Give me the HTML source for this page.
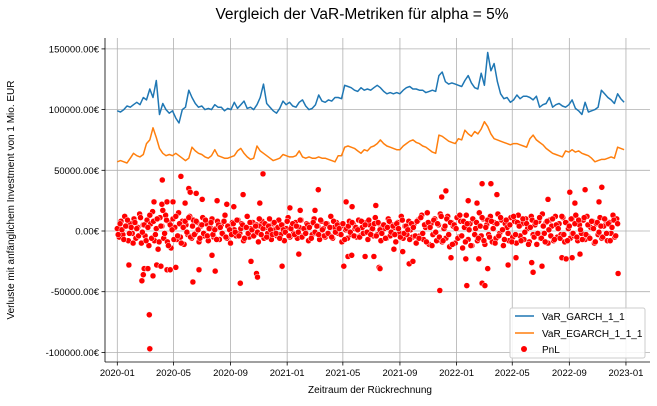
<!DOCTYPE html>
<html><head><meta charset="utf-8">
<style>
body{margin:0;background:#fff;font-family:"Liberation Sans",sans-serif;}
svg text{font-family:"Liberation Sans","DejaVu Sans",sans-serif;}
</style></head>
<body>
<svg id="chart" width="657" height="401" viewBox="0 0 657 401" xmlns="http://www.w3.org/2000/svg">
<text x="362" y="19" text-anchor="middle" font-size="15.5" fill="#000">Vergleich der VaR-Metriken für alpha = 5%</text>
<text transform="translate(14,200) rotate(-90)" text-anchor="middle" font-size="10" fill="#000">Verluste mit anfänglichem Investment von 1 Mio. EUR</text>
<text x="370" y="393" text-anchor="middle" font-size="10" fill="#000">Zeitraum der Rückrechnung</text>
<g id="grid"></g>
<g id="axes"></g>
<g id="series"></g>
<g>
<rect x="510" y="308" width="135" height="50" rx="2" fill="#fff" fill-opacity="0.85" stroke="#ccc"/>
<line x1="515" y1="316" x2="534" y2="316" stroke="#1f77b4" stroke-width="1.6"/>
<text x="542" y="320" font-size="10">VaR_GARCH_1_1</text>
<line x1="515" y1="333" x2="534" y2="333" stroke="#ff7f0e" stroke-width="1.6"/>
<text x="542" y="337" font-size="10">VaR_EGARCH_1_1_1</text>
<circle cx="524" cy="349" r="3" fill="#ff0000"/>
<text x="542" y="353" font-size="10">PnL</text>
</g>
</svg>
<script>
// Y ticks (thousands EUR)
const yTicks=[150,100,50,0,-50,-100];
const yTickLabels=["150000.00€","100000.00€","50000.00€","0.00€","-50000.00€","-100000.00€"];
// X ticks (days since 2020-01-01)
const xTickDays=[0,121,244,366,486,609,731,851,974,1096];
const xTickLabels=["2020-01","2020-05","2020-09","2021-01","2021-05","2021-09","2022-01","2022-05","2022-09","2023-01"];
// Weekly VaR GARCH (thousands)
const garch=[99,98,100,103,102,104,106,104,110,108,117,110,124,96,105,100,97,99,93,89,100,102,116,110,105,102,103,100,101,100,104,102,102,99,101,100,106,101,104,107,101,102,100,104,110,121,105,102,99,97,101,107,104,106,103,102,106,108,103,100,101,104,112,107,106,108,107,110,110,109,120,119,118,116,115,118,116,117,116,118,120,118,115,113,114,113,114,113,116,118,119,117,117,116,116,114,115,116,115,128,131,123,121,122,121,120,119,124,128,122,118,117,130,120,147,132,138,123,113,109,110,106,108,112,109,111,111,110,108,111,102,104,105,110,102,104,105,103,102,104,108,101,99,96,106,98,99,100,102,116,113,110,108,105,113,109,106];
// Weekly VaR EGARCH (thousands)
const egarch=[57,58,57,56,60,64,62,61,63,72,75,85,77,68,64,62,63,62,64,62,60,58,60,69,66,64,63,61,60,62,67,62,61,60,60,61,62,66,68,64,61,59,60,70,66,64,62,60,58,59,60,63,62,61,61,62,66,61,60,61,60,60,61,60,60,59,58,57,62,62,69,70,69,68,66,64,67,66,69,70,72,75,72,70,69,68,67,67,70,72,74,75,73,72,70,69,67,65,64,79,78,76,74,73,72,76,75,83,80,78,82,80,84,90,86,80,76,75,74,73,72,71,72,72,71,70,69,76,79,75,73,71,68,66,64,63,62,61,66,65,67,65,66,64,63,62,60,57,58,59,59,60,61,60,69,68,67];
// PnL dense band, one value every 4 days (thousands)
const pnlBand=[2,-5,8,-3,12,4,-8,6,-2,10,-6,3,14,-10,5,-4,9,-12,6,16,-8,2,-15,11,4,-6,13,-9,7,-14,10,3,-7,15,-5,8,-11,5,-3,12,
-6,9,-2,7,-9,4,11,-4,6,-8,3,10,-5,2,8,-7,5,-3,13,-6,4,-10,7,1,-4,9,-2,6,-8,3,12,-5,2,7,-3,5,-9,4,8,-6,
3,-2,10,-7,6,1,-4,9,-3,5,-8,2,11,-5,4,-2,7,-6,3,9,-4,1,6,-8,5,-3,10,-2,4,-7,8,2,-5,6,-3,12,-6,3,7,-2,
5,-9,4,1,-6,8,-3,6,2,-5,9,-4,3,-2,7,-7,5,1,-4,11,-3,6,-8,4,2,-6,10,-4,5,3,-9,7,-2,12,-6,4,-3,8,1,-5,
6,-10,9,-4,13,-7,3,15,-11,6,-3,10,-8,5,14,-9,2,-6,12,-13,7,4,-10,11,-5,8,-14,3,13,-7,6,-12,9,2,-8,15,-4,10,-11,5,
-3,12,-9,7,-6,14,-2,9,-12,6,3,-8,11,-5,8,-10,13,-4,6,-7,10,2,-9,12,-3,5,-11,8,-6,14,-2,7,-10,9,4,-8,12,-5,6,-3,
11,-9,7,2,-6,10,-4,13,-8,5,-2,9,-7,12,-5,3,8,-10,6,-3,11,-6,4,9,-8,7,-2,13,-5,10];
// PnL second band, offset by 2 days, every 4 days (thousands)
const pnlBand2=[-3,6,1,-7,4,9,-2,3,-10,7,2,-4,11,-1,5,-8,3,13,-6,8,-3,10,-9,4,17,-2,9,-12,5,1,-7,12,-4,6,-10,3,8,-1,11,-5,
4,-3,8,1,-6,5,-2,9,-4,2,7,-3,1,-7,5,3,-2,8,-5,4,1,-3,6,-1,9,-4,2,5,-6,3,-2,7,1,-4,4,-1,10,-3,2,6,
-5,4,1,-3,7,-2,3,-6,5,1,-1,8,-4,2,6,-3,4,-1,9,-5,2,-2,5,3,-6,7,-1,4,-3,9,1,-4,6,-2,3,-5,8,-1,5,2,
-3,6,-7,2,4,-1,7,-4,3,1,-5,8,-2,5,-1,9,-3,2,6,-4,7,1,-2,5,-6,3,8,-1,4,-3,6,2,-5,9,-2,4,1,-7,6,3,
-4,8,-6,11,-2,5,-9,7,3,-12,9,-1,6,-5,12,-8,4,10,-3,7,-11,5,2,-6,13,-4,8,-9,6,1,-12,10,-3,7,-6,4,11,-8,3,9,
-5,8,2,-10,6,-4,11,1,-7,9,-2,5,-9,12,-3,7,4,-8,10,-1,6,-11,3,9,-5,7,-2,11,-6,4,-9,8,1,-4,10,-7,5,2,-6,12,
-3,7,-8,4,10,-2,6,-5,9,1,-7,11,-3,5,-6,8,2,-9,7,-1,4,-5,10,-2,6,-8,3,9,-4,6];
const pnlOutDays=[97,137,314,433,69,70,53,163,265,56,77,58,66,85,94,107,114,126,25,176,211,204,288,300,302,355,391,497,505,488,534,553,564,79,154,157,170,271,183,215,236,251,96,107,120,146,307,372,394,426,493,506,557,786,805,708,699,818,975,1008,1044,928,986,1038,756,775,695,753,786,792,1079,566,629,637,719,751,779,798,842,859,893,896,915,958,967,980,997,596,615];
const pnlOutVals=[42,45,47,34,-69,-97,-41,-42,-43,-36,-37,-31,-31,-28,-29,-32,-32,-30,-28,-32,-33,-20,-25,-35,-38,-29,-19,-21,-20,-29,-21,-21,-30,24,35,32,31,30,26,25,22,20,22,24,24,23,23,19,17,17,24,20,21,39,39,33,28,30,32,34,36,26,23,24,25,23,-49,-45,-43,-45,-35,-31,-27,-25,-22,-23,-23,-31,-28,-22,-26,-34,-29,-22,-23,-22,-19,-15,-17];

const NS="http://www.w3.org/2000/svg";
const X0=105,X1=650,Y0=38,Y1=362;
function xs(d){return 117.3+d*0.4641;}
function ys(v){return 231-v*1.214;}
function mk(tag,attrs,parent){const e=document.createElementNS(NS,tag);for(const k in attrs)e.setAttribute(k,attrs[k]);parent.appendChild(e);return e;}
const grid=document.getElementById('grid'),axes=document.getElementById('axes'),series=document.getElementById('series');

yTicks.forEach((t,i)=>{
  const y=ys(t);
  const g=mk('line',{x1:X0,x2:X1,y1:y,y2:y,stroke:'#b0b0b0','stroke-width':0.8},grid);
  
  
  const tk=mk('line',{x1:X0-3.5,x2:X0,y1:y,y2:y,stroke:'#000','stroke-width':0.8},axes);
  
  
  const tx=mk('text',{x:X0-6,y:y+3.5,'text-anchor':'end','font-size':'9.5'},axes);
  tx.textContent=yTickLabels[i];
  
  
});
xTickDays.forEach((d,i)=>{
  const x=xs(d);
  const g=mk('line',{x1:x,x2:x,y1:Y0,y2:Y1,stroke:'#b0b0b0','stroke-width':0.8},grid);
  
  
  const tk=mk('line',{x1:x,x2:x,y1:Y1,y2:Y1+3.5,stroke:'#000','stroke-width':0.8},axes);
  
  
  const tx=mk('text',{x:x,y:Y1+14,'text-anchor':'middle','font-size':'9.5'},axes);
  tx.textContent=xTickLabels[i];
  
  
});
const ls=mk('line',{x1:X0,x2:X0,y1:Y0,y2:Y1,stroke:'#000','stroke-width':0.8},axes);


const bs=mk('line',{x1:X0,x2:X1,y1:Y1,y2:Y1,stroke:'#000','stroke-width':0.8},axes);



function linePath(arr){return arr.map((v,i)=>(i?'L':'M')+xs(Math.min(i*7,1094)).toFixed(1)+','+ys(v).toFixed(1)).join('');}
const pg=mk('path',{d:linePath(garch),fill:'none',stroke:'#1f77b4','stroke-width':1.5,'stroke-linejoin':'round'},series);


const pe=mk('path',{d:linePath(egarch),fill:'none',stroke:'#ff7f0e','stroke-width':1.5,'stroke-linejoin':'round'},series);



function dot(d,v){
  const c=mk('circle',{cx:xs(d).toFixed(1),cy:ys(v).toFixed(1),r:3,fill:'#ff0000',stroke:'#fff','stroke-width':0.5},series);
  
  
}
pnlBand.forEach((v,i)=>dot(Math.min(i*4,1094),v));
pnlBand2.forEach((v,i)=>dot(Math.min(i*4+2,1094),v));
pnlOutDays.forEach((d,i)=>dot(d,pnlOutVals[i]));
</script>
</body></html>
